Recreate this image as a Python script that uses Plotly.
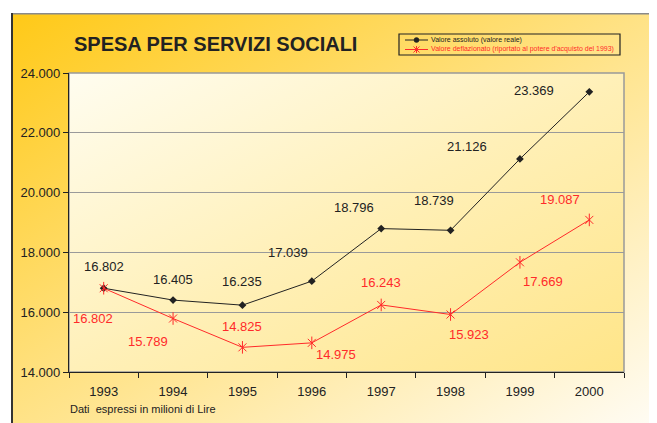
import base64
import plotly.graph_objects as go

# ---- data ----
years = ["1993", "1994", "1995", "1996", "1997", "1998", "1999", "2000"]
valore_assoluto = [16802, 16405, 16235, 17039, 18796, 18739, 21126, 23369]
valore_deflazionato = [16802, 15789, 14825, 14975, 16243, 15923, 17669, 19087]
y_ticks = [14000, 16000, 18000, 20000, 22000, 24000]

title_text = "SPESA PER SERVIZI SOCIALI"
legend_names = ["Valore assoluto (valore reale)",
                "Valore deflazionato (riportato al potere d'acquisto del 1993)"]
footnote = "Dati  espressi in milioni di Lire"

# label offsets (pixels) for the data labels
off_black = [(0, -22), (0, -21), (0, -24), (-24, -29), (-27, -21), (-17, -30), (-53, -12), (-55, -1)]
off_red = [(-11, 30), (-25, 23), (0, -21), (24, 12), (0, -22), (18, 20), (23, 19), (-29, -20)]

OFF = 8  # page body margin
W, H = 657, 423
L, R, T, B = 69, 624, 73, 372
PW, PH = R - L, B - T


def px(x):
    return (x - L) / PW


def py(y):
    return (B - y) / PH


def fmt(v):
    return f"{v:,}".replace(",", ".")


def svg_uri(svg):
    return "data:image/svg+xml;base64," + base64.b64encode(svg.encode()).decode()


outer_svg = (
    '<svg xmlns="http://www.w3.org/2000/svg" width="646" height="410" viewBox="0 0 646 410" preserveAspectRatio="none">'
    '<defs><linearGradient id="g" x1="0" y1="0" x2="1" y2="1">'
    '<stop offset="0" stop-color="#FFC917"/>'
    '<stop offset="0.45" stop-color="#FFE07C"/>'
    '<stop offset="1" stop-color="#FFFCF4"/>'
    '</linearGradient></defs>'
    '<rect x="0" y="0" width="646" height="410" fill="url(#g)"/>'
    '<line x1="0" y1="0.75" x2="646" y2="0.75" stroke="#8a8a8a" stroke-width="1.5"/>'
    '<line x1="1" y1="0" x2="1" y2="410" stroke="#333" stroke-width="2"/>'
    '</svg>'
)
plot_svg = (
    '<svg xmlns="http://www.w3.org/2000/svg" width="555" height="299" viewBox="0 0 555 299" preserveAspectRatio="none">'
    '<defs><linearGradient id="p" x1="0" y1="0" x2="1" y2="1">'
    '<stop offset="0" stop-color="#FFFDF0"/>'
    '<stop offset="0.5" stop-color="#FFF0B8"/>'
    '<stop offset="1" stop-color="#FFE588"/>'
    '</linearGradient></defs>'
    '<rect x="0" y="0" width="555" height="299" fill="url(#p)"/>'
    '</svg>'
)

FONT = "Liberation Sans, Arial, sans-serif"
BLACK = "#222222"
RED = "#FF2A2A"

fig = go.Figure()
fig.add_trace(go.Scatter(
    x=years, y=valore_assoluto, mode="lines+markers", name=legend_names[0],
    line=dict(color=BLACK, width=1),
    marker=dict(symbol="diamond", size=6, color=BLACK),
    showlegend=False,
))
fig.add_trace(go.Scatter(
    x=years, y=valore_deflazionato, mode="lines+markers", name=legend_names[1],
    line=dict(color=RED, width=1),
    marker=dict(symbol="x-thin-open", size=8, color=RED, line=dict(color=RED, width=1)),
    showlegend=False,
))
fig.add_trace(go.Scatter(
    x=years, y=valore_deflazionato, mode="markers", hoverinfo="skip",
    marker=dict(symbol="line-ns-open", size=9, color=RED, line=dict(color=RED, width=1)),
    showlegend=False,
))

annotations = []
for i, v in enumerate(valore_assoluto):
    annotations.append(dict(x=i, y=v, xref="x", yref="y", text=fmt(v), showarrow=False,
                            xshift=off_black[i][0], yshift=-off_black[i][1],
                            font=dict(family=FONT, size=13, color=BLACK)))
for i, v in enumerate(valore_deflazionato):
    annotations.append(dict(x=i, y=v, xref="x", yref="y", text=fmt(v), showarrow=False,
                            xshift=off_red[i][0], yshift=-off_red[i][1],
                            font=dict(family=FONT, size=13, color=RED)))

# title
annotations.append(dict(x=px(215), y=py(44), xref="paper", yref="paper", text="<b>" + title_text + "</b>",
                        showarrow=False, xanchor="center", yanchor="middle",
                        font=dict(family=FONT, size=20, color=BLACK)))
# footnote
annotations.append(dict(x=px(68), y=py(409), xref="paper", yref="paper", text=footnote,
                        showarrow=False, xanchor="left", yanchor="middle",
                        font=dict(family=FONT, size=11, color=BLACK)))
# legend texts
annotations.append(dict(x=px(429), y=py(40), xref="paper", yref="paper", text=legend_names[0],
                        showarrow=False, xanchor="left", yanchor="middle",
                        font=dict(family=FONT, size=7, color=BLACK)))
annotations.append(dict(x=px(429), y=py(49.5), xref="paper", yref="paper", text=legend_names[1],
                        showarrow=False, xanchor="left", yanchor="middle",
                        font=dict(family=FONT, size=7, color=RED)))

shapes = [
    dict(type="rect", xref="paper", yref="paper", x0=0, y0=0, x1=1, y1=1,
         line=dict(color="#999999", width=1.5), fillcolor="rgba(0,0,0,0)", layer="below"),
    dict(type="rect", xref="paper", yref="paper", x0=px(399), x1=px(620), y0=py(55), y1=py(34),
         line=dict(color="#222222", width=1.2), fillcolor="rgba(0,0,0,0)", layer="above"),
    dict(type="line", xref="paper", yref="paper", x0=px(405), x1=px(428), y0=py(40), y1=py(40),
         line=dict(color=BLACK, width=1)),
    dict(type="circle", xref="paper", yref="paper", x0=px(414), x1=px(419), y0=py(42.5), y1=py(37.5),
         line=dict(color=BLACK, width=0.5), fillcolor=BLACK),
    dict(type="line", xref="paper", yref="paper", x0=px(405), x1=px(428), y0=py(49.5), y1=py(49.5),
         line=dict(color=RED, width=1)),
    dict(type="line", xref="paper", yref="paper", x0=px(413.5), x1=px(419.5), y0=py(46.5), y1=py(52.5),
         line=dict(color=RED, width=1)),
    dict(type="line", xref="paper", yref="paper", x0=px(413.5), x1=px(419.5), y0=py(52.5), y1=py(46.5),
         line=dict(color=RED, width=1)),
    dict(type="line", xref="paper", yref="paper", x0=px(416.5), x1=px(416.5), y0=py(46), y1=py(53),
         line=dict(color=RED, width=1)),
]

images = [
    dict(source=svg_uri(outer_svg), xref="paper", yref="paper", x=px(11), y=py(13),
         sizex=(W - 11) / PW, sizey=(H - 13) / PH, sizing="stretch",
         xanchor="left", yanchor="top", layer="below"),
    dict(source=svg_uri(plot_svg), xref="paper", yref="paper", x=0, y=1,
         sizex=1, sizey=1, sizing="stretch", xanchor="left", yanchor="top", layer="below"),
]

fig.update_layout(
    width=W - OFF, height=H - OFF,
    margin=dict(l=L - OFF, r=W - R, t=T - OFF, b=H - B, pad=0),
    paper_bgcolor="white", plot_bgcolor="rgba(0,0,0,0)",
    separators=",.",
    showlegend=False,
    font=dict(family=FONT, size=13, color=BLACK),
    annotations=annotations, shapes=shapes, images=images,
    xaxis=dict(type="category", range=[-0.5, 7.5], tickson="boundaries",
               ticks="outside", ticklen=5, tickcolor="#222", tickwidth=1,
               ticklabelstandoff=7,
               showgrid=False, showline=True, linecolor="#222", linewidth=1.2,
               tickfont=dict(family=FONT, size=13, color=BLACK), zeroline=False),
    yaxis=dict(range=[14000, 24000], tickvals=y_ticks, tickformat=",d",
               ticks="outside", ticklen=5, tickcolor="#222", tickwidth=1,
               showgrid=True, gridcolor="#9a9a9a", gridwidth=1,
               showline=True, linecolor="#222", linewidth=1.2, zeroline=False,
               tickfont=dict(family=FONT, size=13, color=BLACK)),
)

fig.write_html("out.html")
